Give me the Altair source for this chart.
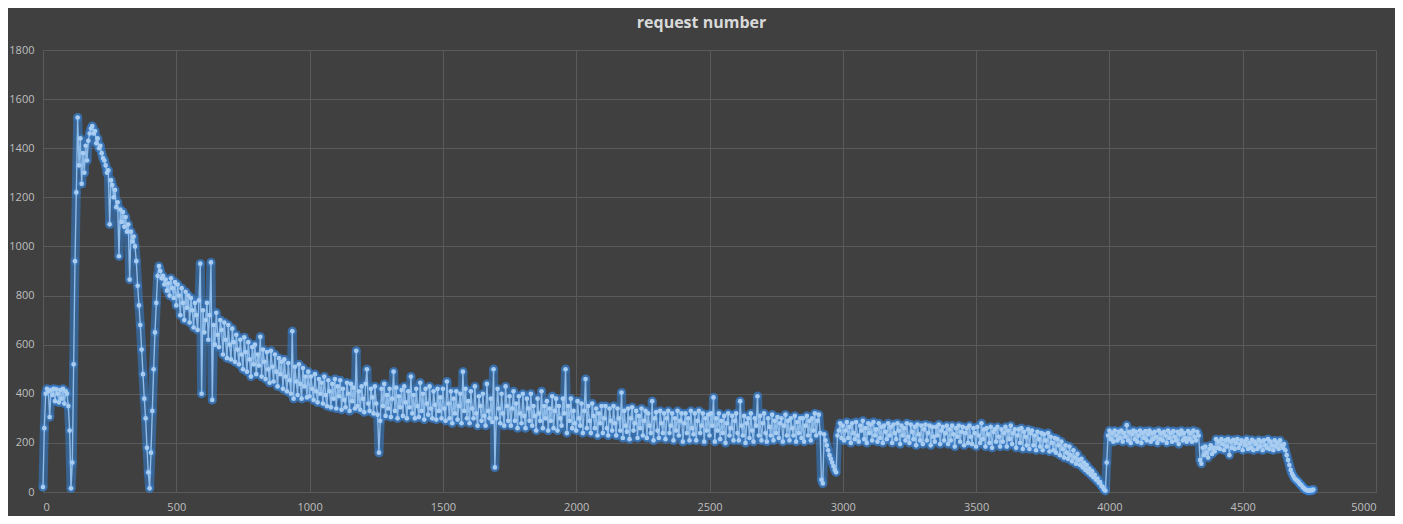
import altair as alt
import pandas as pd

# ---- data (x step of 5 inside each segment) ----
seg_start_a = 0
seg_a = [20, 260, 400, 420, 410, 305, 415, 395, 420, 370,
         418, 400, 365, 415, 380, 420, 360, 410, 400, 350,
         250, 15, 120, 520, 940, 1220, 1525, 1330, 1440, 1255,
         1380, 1300, 1410, 1350, 1430, 1460, 1480, 1490, 1460, 1470,
         1420, 1440, 1400, 1410, 1380, 1360, 1350, 1330, 1300, 1310,
         1090, 1270, 1250, 1200, 1230, 1160, 1180, 960, 1150, 1100,
         1140, 1080, 1120, 1060, 1090, 865, 1060, 1020, 1040, 1000,
         940, 840, 760, 680, 580, 480, 380, 300, 180, 80,
         15, 160, 330, 500, 650, 770, 880, 920, 900, 870]

seg_start_b = 450
seg_b = [880, 845, 865, 820, 850, 800, 870, 830, 790, 855,
         760, 845, 800, 720, 830, 770, 700, 815, 750, 800,
         690, 790, 740, 670, 770, 720, 660, 780, 930, 400,
         740, 650, 700, 770, 620, 720, 935, 375, 680, 600,
         730, 640, 590, 700, 660, 560, 690, 620, 545, 680,
         600, 540, 665, 610, 530, 640, 580, 520, 620, 560,
         500, 630, 570, 490, 610, 540, 470, 590, 520, 600,
         480, 560, 515, 632, 470, 580, 530, 460, 570, 500,
         445, 575, 510, 450, 560, 490, 430, 545, 480, 530,
         420, 540, 470, 410, 525, 455, 400, 655, 380, 510,
         450, 395, 520, 440, 380, 505, 430, 470, 385, 490]

seg_start_c = 1000
seg_c = [390, 470, 420, 375, 480, 410, 365, 460, 400, 445,
         360, 470, 395, 350, 455, 410, 345, 440, 380, 460,
         340, 430, 390, 455, 335, 420, 375, 345, 445, 400,
         330, 440, 370, 425, 340, 575, 350, 410, 335, 430,
         380, 325, 440, 500, 360, 330, 420, 385, 320, 430,
         360, 315, 160, 290, 420, 350, 440, 310, 395, 340,
         420, 305, 380, 490, 330, 425, 300, 390, 345, 415,
         310, 430, 365, 300, 410, 345, 470, 320, 395, 300,
         420, 350, 305, 445, 330, 400, 295, 420, 360, 315,
         430, 340, 300, 410, 355, 295, 420, 330, 385, 300]

seg_start_d = 1500
seg_d = [420, 340, 290, 450, 360, 300, 410, 280, 380, 320,
         410, 295, 350, 400, 280, 490, 330, 420, 300, 370,
         280, 410, 340, 300, 430, 320, 270, 390, 350, 290,
         400, 310, 270, 440, 330, 300, 380, 285, 500, 100,
         300, 420, 340, 280, 400, 320, 270, 430, 350, 290,
         390, 270, 340, 410, 290, 360, 260, 390, 320, 280,
         400, 310, 260, 380, 340, 290, 400, 270, 350, 310,
         250, 380, 320, 290, 410, 260, 350, 300, 370, 250,
         340, 290, 390, 260, 330, 380, 250, 350, 300, 270,
         380, 320, 500, 240, 350, 290, 380, 260, 330, 280]

seg_start_e = 2000
seg_e = [250, 370, 300, 270, 360, 240, 330, 460, 260, 350,
         290, 240, 360, 310, 260, 340, 230, 320, 280, 350,
         240, 300, 350, 260, 230, 340, 290, 250, 350, 280,
         230, 340, 300, 250, 405, 220, 330, 270, 245, 340,
         215, 300, 345, 250, 280, 330, 220, 310, 260, 340,
         230, 290, 330, 220, 320, 270, 240, 370, 210, 300,
         325, 250, 220, 330, 280, 240, 320, 215, 300, 330,
         240, 270, 320, 210, 300, 250, 330, 230, 290, 320,
         205, 280, 320, 240, 300, 210, 330, 260, 235, 320,
         210, 290, 330, 240, 270, 320, 205, 300, 250, 315]

seg_start_f = 2500
seg_f = [230, 320, 270, 385, 205, 300, 250, 320, 215, 290,
         240, 310, 200, 280, 320, 230, 260, 310, 210, 290,
         320, 240, 210, 370, 270, 230, 310, 200, 280, 300,
         220, 320, 250, 205, 300, 270, 390, 230, 310, 210,
         280, 320, 240, 205, 300, 265, 230, 315, 210, 290,
         240, 305, 220, 280, 300, 205, 270, 315, 230, 290,
         210, 300, 260, 230, 310, 205, 285, 240, 300, 220,
         300, 205, 270, 310, 230, 290, 210, 300, 250, 320,
         230, 290, 315, 240, 50, 35, 235, 210, 190, 170,
         150, 135, 120, 105, 90, 80, 230, 250, 280, 220]

seg_start_g = 3000
seg_g = [270, 210, 250, 285, 220, 265, 200, 280, 240, 215,
         285, 230, 205, 270, 250, 290, 215, 260, 200, 280,
         240, 275, 210, 285, 230, 255, 205, 280, 220, 265,
         200, 270, 245, 215, 280, 230, 265, 200, 275, 240,
         215, 280, 250, 195, 270, 230, 260, 210, 280, 225,
         200, 275, 245, 215, 265, 190, 275, 235, 210, 270,
         195, 255, 275, 210, 240, 270, 190, 265, 225, 205,
         265, 230, 275, 195, 250, 265, 210, 240, 270, 195,
         255, 210, 270, 235, 185, 260, 225, 270, 205, 245,
         265, 190, 240, 260, 200, 270, 225, 195, 260, 240]

seg_start_h = 3500
seg_h = [185, 265, 230, 200, 280, 215, 255, 185, 260, 235,
         200, 265, 180, 245, 255, 205, 265, 225, 185, 255,
         205, 240, 265, 185, 250, 215, 270, 195, 240, 255,
         180, 230, 255, 200, 260, 175, 245, 225, 190, 255,
         175, 240, 250, 190, 230, 170, 245, 215, 185, 240,
         170, 235, 210, 185, 240, 165, 225, 200, 170, 220,
         160, 215, 190, 150, 205, 175, 140, 190, 160, 135,
         185, 150, 125, 170, 140, 115, 155, 130, 110, 135,
         100, 120, 90, 110, 80, 95, 70, 85, 60, 70,
         50, 55, 38, 40, 25, 20, 10, 5, 120, 230]

seg_start_i = 4000
seg_i = [250, 215, 240, 205, 250, 230, 210, 245, 220, 250,
         205, 240, 225, 272, 210, 245, 200, 235, 250, 215,
         245, 205, 230, 250, 200, 240, 220, 248, 210, 235,
         250, 205, 240, 215, 245, 225, 200, 250, 215, 240,
         210, 245, 230, 200, 250, 220, 240, 205, 248, 225,
         210, 245, 195, 235, 250, 210, 240, 220, 205, 248,
         215, 240, 205, 250, 225, 210, 245, 230, 130, 115,
         180, 150, 185, 160, 140, 175, 190, 155, 180, 165]

seg_start_j = 4400
seg_j = [215, 180, 205, 175, 215, 195, 170, 210, 185, 215,
         150, 205, 180, 212, 175, 200, 215, 180, 195, 210,
         170, 205, 190, 215, 175, 200, 180, 212, 170, 205,
         195, 175, 212, 185, 205, 170, 210, 190, 180, 215,
         175, 205, 190, 170, 210, 185, 200, 175, 210, 190,
         180, 195, 170, 150, 130, 110, 90, 75, 65, 55,
         50, 45, 40, 32, 28, 20, 15, 10, 8, 5,
         5, 8, 6, 10]

segments = [(seg_start_a, seg_a), (seg_start_b, seg_b), (seg_start_c, seg_c),
            (seg_start_d, seg_d), (seg_start_e, seg_e), (seg_start_f, seg_f),
            (seg_start_g, seg_g), (seg_start_h, seg_h), (seg_start_i, seg_i),
            (seg_start_j, seg_j)]

x_ticks = list(range(0, 5001, 500))
y_ticks = list(range(0, 1801, 200))

rows = []
order = 0
for start, vals in segments:
    for i, v in enumerate(vals):
        rows.append({"x": start + 5 * i, "y": v, "o": order})
        order += 1
df = pd.DataFrame(rows)

grid_color = "#5A5A5A"
label_color = "#BFBFBF"

base = alt.Chart(df).encode(
    x=alt.X("x:Q", scale=alt.Scale(domain=[0, 5000], nice=False, zero=False),
            axis=alt.Axis(values=x_ticks, format="d", title=None, grid=True,
                          gridColor=grid_color, domainColor=grid_color,
                          ticks=False, labelColor=label_color, labelFontSize=11,
                          labelFont="Open Sans", labelPadding=9)),
    y=alt.Y("y:Q", scale=alt.Scale(domain=[0, 1800], nice=False),
            axis=alt.Axis(values=y_ticks, format="d", title=None, grid=True,
                          gridColor=grid_color, domainColor=grid_color,
                          ticks=False, labelColor=label_color, labelFontSize=11,
                          labelFont="Open Sans", labelPadding=9)),
    order="o:Q",
)

glow_line = base.mark_line(strokeWidth=9, color="#2F8BF0", opacity=0.45,
                           strokeJoin="round", strokeCap="round")
glow_pts = base.mark_circle(size=85, color="#3A90EE", opacity=0.3)
line = base.mark_line(strokeWidth=1.4, color="#8DBBEA")
pts = base.mark_circle(size=22, color="#A9CDF0", opacity=1)

chart = alt.layer(glow_line, glow_pts, line, pts).properties(
    width=1333,
    height=442,
    title=alt.TitleParams("request number", color="#D9D9D9", fontSize=16,
                          font="Open Sans", fontWeight="bold", anchor="middle",
                          offset=13, dx=-8),
    autosize=alt.AutoSizeParams(type="none"),
    padding={"left": 35, "top": 42, "right": 19, "bottom": 24},
).configure(background="#404040").configure_view(stroke=None)

chart.save("out.html", embed_options={"renderer": "svg", "actions": False})
